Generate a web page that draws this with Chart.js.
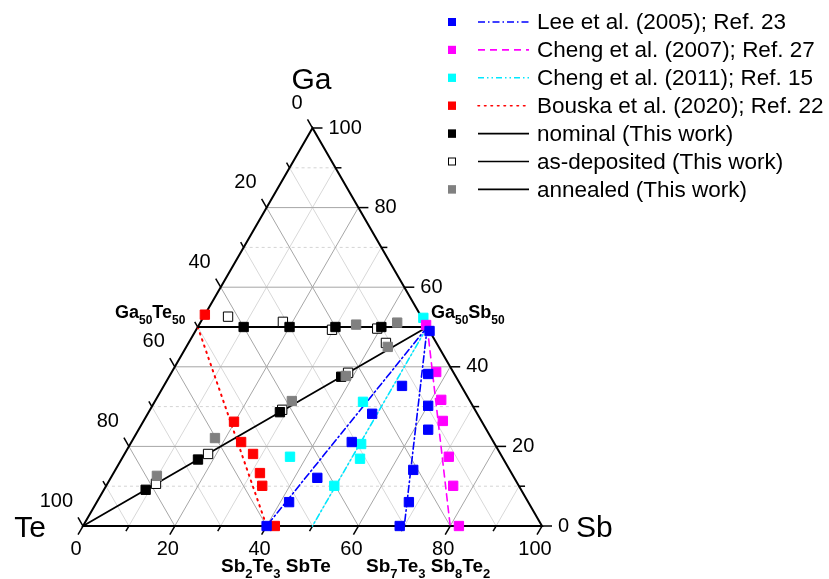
<!DOCTYPE html>
<html lang="en">
<head>
<meta charset="utf-8">
<script src="https://cdn.jsdelivr.net/npm/chart.js"></script>
<style>
    html, body { margin: 0; padding: 0; background: #fff; }
    #wrap { width: 829px; height: 579px; }
</style>
</head>
<body>
<div id="wrap"><canvas id="ternary" width="829" height="579"></canvas></div>
<script>
// compositions in at.% (Ga, Sb); Te = 100 - Ga - Sb
const leeGa   = [49.0, 38.2, 35.2, 30.2, 24.2, 28.2, 21.1, 14.1, 12.1, 6.0, 6.0, 0, 0];
const leeSb   = [51.0, 56.1, 51.9, 60.1, 63.1, 48.9, 48.0, 64.9, 45.0, 68.0, 41.9, 40.0, 69.0];
const cheng07Ga = [50.5, 38.7, 31.7, 26.4, 17.4, 10.1, 0];
const cheng07Sb = [49.5, 57.6, 62.2, 65.2, 71.0, 75.6, 81.9];
const cheng11Ga = [52.3, 31.2, 20.6, 16.9, 10.1, 17.4];
const cheng11Sb = [48.0, 45.4, 50.3, 51.9, 49.7, 36.4];
const bouskaGa = [53.1, 26.2, 21.1, 18.1, 13.3, 10.1, 0];
const bouskaSb = [0, 19.8, 23.9, 28.0, 31.9, 34.0, 41.8];
const nominalGa = [50, 50, 50, 50, 37.5, 28.6, 16.7, 9.1];
const nominalSb = [10, 20, 30, 40, 37.5, 28.6, 16.7, 9.1];
const asDepGa = [52.6, 51.3, 49.3, 49.6, 46.0, 38.5, 29.2, 18.1, 10.6];
const asDepSb = [5.3, 17.9, 29.6, 39.3, 43.0, 38.5, 28.8, 18.2, 10.6];
const annealGa = [50.6, 51.1, 45.0, 37.7, 31.4, 22.1, 12.6];
const annealSb = [34.2, 42.9, 43.9, 38.4, 29.8, 17.7, 9.8];

// tie lines [ga1, sb1, ga2, sb2]
const tieNominal = [[50, 0, 50, 50], [0, 0, 50, 50]];
const tieBouska = [[50, 0, 0, 40]];
const tieLee = [[50, 50, 0, 40], [50, 50, 0, 70]];
const tieCheng11 = [[50, 50, 0, 50]];
const tieCheng07 = [[50, 50, 0, 80]];

const majorTicks = [0, 20, 40, 60, 80, 100];
const minorTicks = [10, 30, 50, 70, 90];

const FONT = '"Liberation Sans", Arial, sans-serif';
const SQ3 = Math.sqrt(3) / 2;

function tern(ga, sb) { return { x: sb + ga / 2, y: ga * SQ3 }; }
function pts(ga, sb) { return ga.map((g, i) => tern(g, sb[i])); }

function markers(label, ga, sb, fill, border, order) {
    return {
        label: label, data: pts(ga, sb), pointStyle: 'rect', pointRadius: 6.6,
        pointHoverRadius: 6.6, backgroundColor: fill, borderColor: border,
        pointBorderWidth: 1, showLine: false, clip: false, order: order
    };
}
function tieSets(list, color, dash, width, order) {
    return list.map(t => ({
        label: 'tie', data: [tern(t[0], t[1]), tern(t[2], t[3])], showLine: true,
        borderColor: color, borderWidth: width, borderDash: dash, pointRadius: 0,
        clip: false, order: order, borderCapStyle: 'round'
    }));
}

const datasets = [].concat(
    tieSets(tieNominal, '#000', [], 1.8, 20),
    tieSets(tieBouska, '#ff0000', [1.5, 5], 2, 20),
    tieSets(tieLee, '#0000ff', [7, 3, 1.5, 3], 1.6, 20),
    tieSets(tieCheng11, '#00e8ff', [6, 3, 1.5, 3, 1.5, 3], 1.6, 20),
    tieSets(tieCheng07, '#ff00ff', [7, 5], 1.6, 20),
    [
        markers('as-deposited (This work)', asDepGa, asDepSb, '#fff', '#000', 9),
        markers('nominal (This work)', nominalGa, nominalSb, '#000', '#000', 8),
        markers('annealed (This work)', annealGa, annealSb, '#808080', '#808080', 7),
        markers('Bouska et al. (2020); Ref. 22', bouskaGa, bouskaSb, '#ff0000', '#ff0000', 6),
        markers('Cheng et al. (2011); Ref. 15', cheng11Ga, cheng11Sb, '#00ffff', '#00ffff', 5),
        markers('Cheng et al. (2007); Ref. 27', cheng07Ga, cheng07Sb, '#ff00ff', '#ff00ff', 4),
        markers('Lee et al. (2005); Ref. 23', leeGa, leeSb, '#0000ff', '#0000ff', 3)
    ]
);

const legendRows = [
    ['Lee et al. (2005); Ref. 23', '#0000ff', '#0000ff', [7, 3, 1.5, 3]],
    ['Cheng et al. (2007); Ref. 27', '#ff00ff', '#ff00ff', [7, 5]],
    ['Cheng et al. (2011); Ref. 15', '#00ffff', '#00e8ff', [6, 3, 1.5, 3, 1.5, 3]],
    ['Bouska et al. (2020); Ref. 22', '#ff0000', '#ff0000', [1.5, 5]],
    ['nominal (This work)', '#000', '#000', []],
    ['as-deposited (This work)', '#fff', '#000', []],
    ['annealed (This work)', '#808080', '#000', []]
];

function chem(ctx, parts, x, y, size) {
    let cx = x;
    parts.forEach((p, i) => {
        const sub = i % 2 === 1;
        ctx.font = 'bold ' + (sub ? Math.round(size * 0.68) : size) + 'px ' + FONT;
        ctx.fillText(p, cx, sub ? y + 6 : y);
        cx += ctx.measureText(p).width;
    });
    return cx;
}

const ternaryFrame = {
    id: 'ternaryFrame',
    beforeDatasetsDraw(chart) {
        const ctx = chart.ctx, xs = chart.scales.x, ys = chart.scales.y;
        const P = (ga, sb) => [xs.getPixelForValue(sb + ga / 2), ys.getPixelForValue(ga * SQ3)];
        const seg = (a, b) => { ctx.beginPath(); ctx.moveTo(a[0], a[1]); ctx.lineTo(b[0], b[1]); ctx.stroke(); };
        ctx.save();
        // minor grid
        ctx.lineWidth = 1;
        minorTicks.forEach(v => {
            ctx.strokeStyle = '#d4d4d4';
            ctx.setLineDash([3, 3]);
            seg(P(v, 0), P(v, 100 - v));
            ctx.setLineDash([]);
            ctx.strokeStyle = '#d8d8d8';
            seg(P(0, v), P(100 - v, v));
            seg(P(100 - v, 0), P(0, 100 - v));
        });
        // major grid
        ctx.strokeStyle = '#a6a6a6';
        majorTicks.slice(1, -1).forEach(v => {
            seg(P(v, 0), P(v, 100 - v));
            seg(P(0, v), P(100 - v, v));
            seg(P(100 - v, 0), P(0, 100 - v));
        });
        // frame
        const te = P(0, 0), sbV = P(0, 100), ga = P(100, 0);
        ctx.strokeStyle = '#000';
        ctx.lineWidth = 2;
        ctx.beginPath();
        ctx.moveTo(te[0], te[1]); ctx.lineTo(sbV[0], sbV[1]); ctx.lineTo(ga[0], ga[1]); ctx.closePath();
        ctx.stroke();
        // ticks
        ctx.lineWidth = 1.5;
        const tick = (p, dx, dy, len) => seg(p, [p[0] + dx * len, p[1] + dy * len]);
        majorTicks.concat(minorTicks).forEach(v => {
            const len = v % 20 === 0 ? 10 : 6;
            tick(P(v, 100 - v), 1, 0, len);           // Ga (right)
            tick(P(100 - v, 0), -0.5, -SQ3, len);     // Te (left)
            tick(P(0, v), -0.5, SQ3, len);            // Sb (bottom)
        });
        // tick labels
        ctx.fillStyle = '#000';
        ctx.font = '20px ' + FONT;
        ctx.textBaseline = 'middle';
        majorTicks.forEach(v => {
            let p = P(v, 100 - v);
            ctx.textAlign = 'left';
            ctx.fillText(String(v), p[0] + 16, p[1]);
            p = P(100 - v, 0);
            ctx.textAlign = 'right';
            ctx.fillText(String(v), p[0] - 10, p[1] - 25);
            p = P(0, v);
            ctx.textAlign = 'center';
            ctx.fillText(String(v), p[0] - 7, p[1] + 23);
        });
        // axis titles
        ctx.font = '30px ' + FONT;
        ctx.textBaseline = 'alphabetic';
        ctx.textAlign = 'center';
        ctx.fillText('Ga', ga[0] - 1, ga[1] - 39);
        ctx.fillText('Te', te[0] - 53, te[1] + 11);
        ctx.textAlign = 'left';
        ctx.fillText('Sb', sbV[0] + 34, sbV[1] + 11);
        // compound labels
        chem(ctx, ['Ga', '50', 'Te', '50'], 115, 318, 18);
        chem(ctx, ['Ga', '50', 'Sb', '50'], 431, 318, 18);
        const e = chem(ctx, ['Sb', '2', 'Te', '3'], 221, 572, 19);
        chem(ctx, [' SbTe'], e, 572, 19);
        const f = chem(ctx, ['Sb', '7', 'Te', '3'], 366, 572, 19);
        chem(ctx, [' Sb', '8', 'Te', '2'], f, 572, 19);
        ctx.restore();
    },
    afterDraw(chart) {
        const ctx = chart.ctx;
        ctx.save();
        legendRows.forEach((r, i) => {
            const y = 22 + i * 27.9;
            ctx.fillStyle = r[1];
            ctx.strokeStyle = r[1] === '#fff' ? '#000' : r[1];
            ctx.lineWidth = 1;
            ctx.fillRect(448, y - 4, 8, 8);
            ctx.strokeRect(448.5, y - 3.5, 7, 7);
            ctx.strokeStyle = r[2];
            ctx.lineWidth = 1.6;
            ctx.setLineDash(r[3]);
            ctx.lineCap = r[3].length === 2 && r[3][0] < 2 ? 'round' : 'butt';
            ctx.beginPath(); ctx.moveTo(478, y); ctx.lineTo(529, y); ctx.stroke();
            ctx.setLineDash([]);
            ctx.fillStyle = '#000';
            ctx.font = '22.5px ' + FONT;
            ctx.textBaseline = 'middle';
            ctx.fillText(r[0], 537, y + 1);
        });
        ctx.restore();
    }
};

new Chart(document.getElementById('ternary'), {
    type: 'scatter',
    data: { datasets: datasets },
    options: {
        responsive: false,
        animation: false,
        layout: { padding: { left: 83, right: 287, top: 128, bottom: 53 } },
        scales: {
            x: { type: 'linear', min: 0, max: 100, display: false },
            y: { type: 'linear', min: 0, max: 100 * SQ3, display: false }
        },
        plugins: { legend: { display: false }, tooltip: { enabled: false } }
    },
    plugins: [ternaryFrame]
});
</script>
</body>
</html>
